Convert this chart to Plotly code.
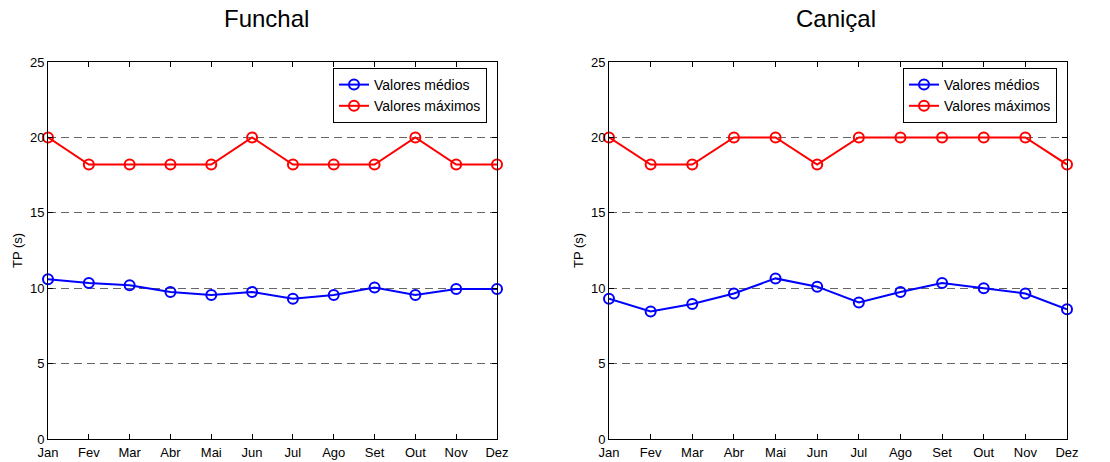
import plotly.graph_objects as go

# Monthly peak period TP (s) at two stations
meses = ["Jan", "Fev", "Mar", "Abr", "Mai", "Jun", "Jul", "Ago", "Set", "Out", "Nov", "Dez"]

funchal_medios = [10.6, 10.35, 10.2, 9.75, 9.55, 9.75, 9.3, 9.55, 10.05, 9.55, 9.95, 9.95]
funchal_maximos = [20.0, 18.2, 18.2, 18.2, 18.2, 20.0, 18.2, 18.2, 18.2, 20.0, 18.2, 18.2]

canical_medios = [9.3, 8.45, 8.95, 9.65, 10.65, 10.1, 9.05, 9.75, 10.35, 10.0, 9.65, 8.6]
canical_maximos = [20.0, 18.2, 18.2, 20.0, 20.0, 18.2, 20.0, 20.0, 20.0, 20.0, 20.0, 18.2]

y_ticks = [0, 5, 10, 15, 20, 25]

FONT = "Liberation Sans, Arial, sans-serif"
W, H = 1110, 462

panels = [
    dict(title="Funchal", medios=funchal_medios, maximos=funchal_maximos,
         xd=(48, 497), legend="legend", xa="x", ya="y", title_x=266),
    dict(title="Caniçal", medios=canical_medios, maximos=canical_maximos,
         xd=(609, 1067), legend="legend2", xa="x2", ya="y2", title_x=836),
]
y_top, y_bot = 62, 439

fig = go.Figure()
layout = dict(
    width=W, height=H, margin=dict(l=0, r=0, t=0, b=0, autoexpand=False),
    paper_bgcolor="white", plot_bgcolor="white",
    font=dict(family=FONT, size=13, color="black"),
    annotations=[],
)

for i, p in enumerate(panels):
    for name, vals, color in [("Valores médios", p["medios"], "#0000ff"),
                              ("Valores máximos", p["maximos"], "#ff0000")]:
        fig.add_trace(go.Scatter(
            x=meses, y=vals, name=name, mode="lines+markers",
            line=dict(color=color, width=2),
            marker=dict(symbol="circle-open", size=10, color=color, line=dict(width=2, color=color)),
            cliponaxis=False, xaxis=p["xa"], yaxis=p["ya"], legend=p["legend"],
        ))

    sfx = "" if i == 0 else str(i + 1)
    layout["xaxis" + sfx] = dict(
        domain=[p["xd"][0] / W, p["xd"][1] / W], anchor="y" + sfx,
        type="category", range=[0, len(meses) - 1], automargin=False,
        showline=True, linecolor="black", linewidth=1, mirror="ticks",
        ticks="inside", ticklen=5, tickcolor="black", tickwidth=1,
        showgrid=False, zeroline=False,
        tickfont=dict(size=13, family=FONT), ticklabelstandoff=1,
    )
    layout["yaxis" + sfx] = dict(
        domain=[1 - y_bot / H, 1 - y_top / H], anchor="x" + sfx,
        range=[0, 25], tickvals=y_ticks, automargin=False,
        showline=True, linecolor="black", linewidth=1, mirror="ticks",
        ticks="inside", ticklen=5, tickcolor="black", tickwidth=1,
        showgrid=True, gridcolor="#666666", griddash="8px,5px", gridwidth=1,
        zeroline=False, tickfont=dict(size=13, family=FONT), ticklabelstandoff=0,
    )
    layout[p["legend"]] = dict(
        x=(p["xd"][1] - 10) / W, xanchor="right", y=1 - 68 / H, yanchor="top",
        xref="paper", yref="paper",
        bgcolor="white", bordercolor="black", borderwidth=1,
        font=dict(size=14, family=FONT), tracegroupgap=0,
    )
    layout["annotations"].append(dict(
        text=p["title"], x=p["title_x"] / W, y=1 - 19 / H, xref="paper", yref="paper",
        xanchor="center", yanchor="middle", showarrow=False,
        font=dict(size=24, family=FONT, color="black"),
    ))
    layout["annotations"].append(dict(
        text="TP (s)", x=(p["xd"][0] - 31) / W, y=1 - 251 / H, xref="paper", yref="paper",
        xanchor="center", yanchor="middle", showarrow=False, textangle=-90,
        font=dict(size=13, family=FONT, color="black"),
    ))

layout["showlegend"] = True
fig.update_layout(**layout)
fig.write_html("out.html")
